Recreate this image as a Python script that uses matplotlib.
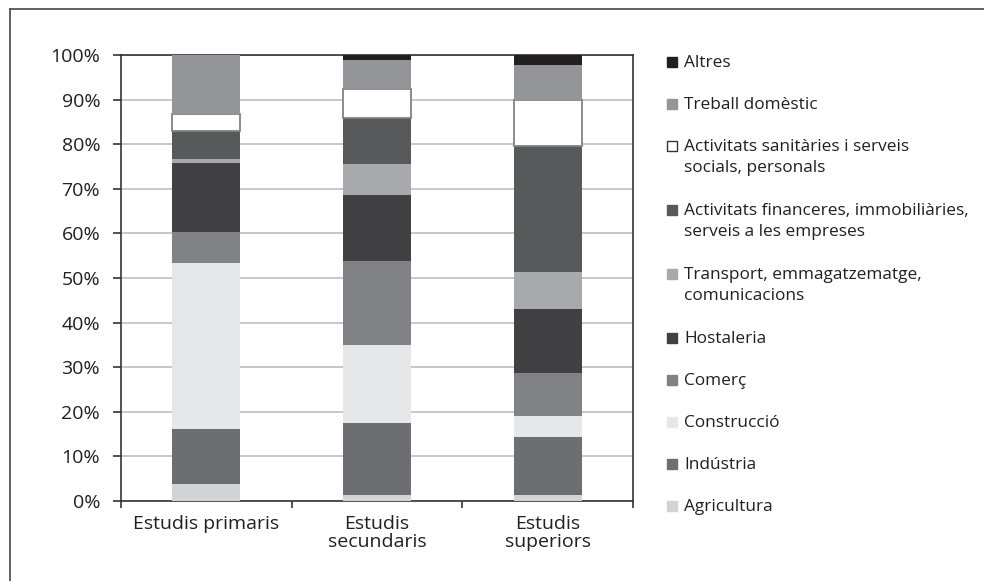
import matplotlib
matplotlib.use("Agg")
from matplotlib import pyplot as plt
from matplotlib.lines import Line2D
from matplotlib.patches import Rectangle
from matplotlib.ticker import PercentFormatter, FixedLocator
import numpy as np

# --- DADES ---
nivells = ["Estudis primaris", "Estudis\nsecundaris", "Estudis\nsuperiors"]

sectors = [
    "Agricultura",
    "Indústria",
    "Construcció",
    "Comerç",
    "Hostaleria",
    "Transport, emmagatzematge,\ncomunicacions",
    "Activitats financeres, immobiliàries,\nserveis a les empreses",
    "Activitats sanitàries i serveis\nsocials, personals",
    "Treball domèstic",
    "Altres",
]

# percentatge de cada sector (primaris, secundaris, superiors)
agricultura = [3.8, 1.3, 1.3]
industria = [12.3, 16.2, 13.0]
construccio = [37.3, 17.5, 4.8]
comerc = [6.9, 18.7, 9.6]
hostaleria = [15.5, 14.9, 14.3]
transport = [0.9, 7.0, 8.3]
financeres = [6.3, 10.3, 28.3]
sanitaries = [3.8, 6.5, 10.3]
treball_domestic = [13.2, 6.5, 7.9]
altres = [0.0, 1.1, 2.2]

valors = [agricultura, industria, construccio, comerc, hostaleria,
          transport, financeres, sanitaries, treball_domestic, altres]

colors = ["#d1d3d4", "#6d6e71", "#e6e7e8", "#808285", "#414042",
          "#a7a9ac", "#58595b", "#ffffff", "#939598", "#231f20"]

# --- VISUALITZACIÓ ---
plt.rcParams["font.family"] = ["Open Sans", "DejaVu Sans"]
text_color = "#231f20"
W, H = 984, 581

fig = plt.figure(figsize=(9.84, 5.81), dpi=100)
ax = fig.add_axes([121 / W, 1 - 501 / H, 512 / W, 446 / H])

x = np.arange(len(nivells))
bottom = np.zeros(len(nivells))
for nom, vals, col in zip(sectors, valors, colors):
    vals = np.array(vals)
    if col == "#ffffff":
        ax.bar(x, vals, width=0.4, bottom=bottom, color=col,
               edgecolor="#808285", linewidth=1.3, zorder=3)
    else:
        ax.bar(x, vals, width=0.4, bottom=bottom, color=col,
               linewidth=0, zorder=3)
    bottom += vals

ax.set_xlim(-0.5, len(nivells) - 0.5)
ax.set_ylim(0, 100)
ax.set_yticks(np.arange(0, 101, 10))
ax.yaxis.set_major_formatter(PercentFormatter(decimals=0))
ax.grid(axis="y", color="#c8c8c8", linewidth=1.4, zorder=0)

ax.set_xticks(x)
ax.set_xticklabels(nivells, fontsize=14, color=text_color, linespacing=1.0)
ax.xaxis.set_minor_locator(FixedLocator(np.arange(-0.5, len(nivells), 1.0)))
ax.tick_params(axis="x", which="major", length=0, pad=10)
ax.tick_params(axis="x", which="minor", length=5, width=1.2,
               direction="out", color="#333333")
ax.tick_params(axis="y", length=6, width=1.2, direction="out",
               color="#333333", labelsize=14, labelcolor=text_color, pad=9)

for s in ax.spines.values():
    s.set_color("#333333")
    s.set_linewidth(1.2)

# llegenda manual (marcador alineat amb la primera línia)
y_px = 62
for nom, col in reversed(list(zip(sectors, colors))):
    edge = "#333333" if col == "#ffffff" else col
    fig.add_artist(Rectangle((667 / W, 1 - (y_px + 5) / H), 10 / W, 10 / H,
                             transform=fig.transFigure, facecolor=col,
                             edgecolor=edge, linewidth=1.0))
    fig.text(684 / W, 1 - (y_px - 7) / H, nom, fontsize=12.4,
             color=text_color, va="top", ha="left", linespacing=1.42)
    n_linies = nom.count("\n") + 1
    y_px += 42 + 22 * (n_linies - 1)

# marc exterior
fig.add_artist(Line2D([10 / W, 10 / W], [0, 1 - 9 / H],
                      transform=fig.transFigure, color="#555555", linewidth=1.3))
fig.add_artist(Line2D([10 / W, 1], [1 - 9 / H, 1 - 9 / H],
                      transform=fig.transFigure, color="#555555", linewidth=1.3))

fig.savefig("out.png", dpi=100)
